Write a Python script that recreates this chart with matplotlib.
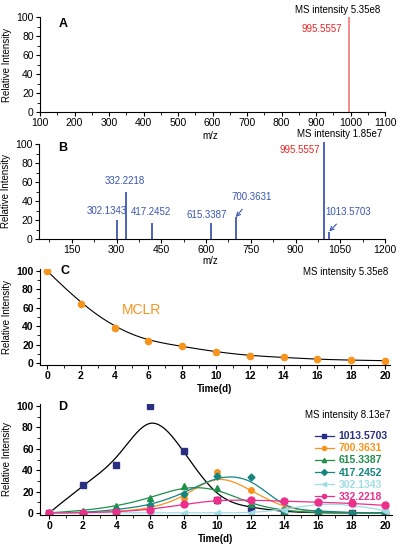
import numpy as np
import matplotlib.pyplot as plt
from matplotlib.ticker import MultipleLocator

plt.rcParams['font.family'] = ['Liberation Sans', 'DejaVu Sans']
plt.rcParams['font.size'] = 7

# ---------------- data ----------------
# panel A : full scan spectrum, day 0
mz_a = [995.5557]
int_a = [100]

# panel B : spectrum after degradation
mz_b = [302.1343, 332.2218, 417.2452, 615.3387, 700.3631, 995.5557, 1013.5703]
int_b = [20, 50, 17, 17, 23, 102, 7]

# panel C : MCLR decay
days = [0, 2, 4, 6, 8, 10, 12, 14, 16, 18, 20]
mclr = [100, 64, 38, 24, 18, 12, 8, 6, 4, 3, 2.5]

# panel D : products
prod_names = ["1013.5703", "700.3631", "615.3387", "417.2452", "302.1343", "332.2218"]
p1013 = [0, 26, 45, 100, 58, 12, 5, 1, 0, 0, 0]
p700 = [0, 0, 1, 4, 14, 38, 21, 4, 1, 0, 0]
p615 = [0, 2, 6, 14, 25, 23, 8, 2, 0, 0, 0]
p417 = [0, 0, 3, 7, 18, 35, 34, 3, 2, 0, 0]
p302 = [0, 0, 0, 0, 0, 0, 0, 3, 9, 8, 2]
p332 = [0, 0, 1, 3, 8, 12, 12, 11, 10, 9, 7]

prod_vals = [p1013, p700, p615, p417, p302, p332]
prod_cols = ["#2b2f83", "#f7941d", "#1f8f4a", "#16857f", "#9fdde5", "#ec2f8c"]
prod_mk = ["s", "o", "^", "D", "<", "o"]
prod_ms = [3.8, 4, 4, 3.5, 4, 5]
line_cols = ["black", "#f7941d", "#1f8f4a", "#16857f", "#9fdde5", "#ec2f8c"]


def bspline(xs, ys, k=3, num=400):
    # clamped uniform B-spline through control points (like Origin "B-Spline")
    xs = np.asarray(xs, float)
    ys = np.asarray(ys, float)
    n = len(xs)
    knots = np.concatenate([np.zeros(k), np.arange(n - k + 1), np.full(k, n - k)])
    u = np.linspace(0, n - k, num)
    u[-1] -= 1e-9
    N = np.zeros((num, len(knots) - 1))
    for i in range(len(knots) - 1):
        N[:, i] = (knots[i] <= u) & (u < knots[i + 1])
    for d in range(1, k + 1):
        Nn = np.zeros((num, len(knots) - 1 - d))
        for i in range(len(knots) - 1 - d):
            a = knots[i + d] - knots[i]
            b = knots[i + d + 1] - knots[i + 1]
            t1 = (u - knots[i]) / a * N[:, i] if a > 0 else 0
            t2 = (knots[i + d + 1] - u) / b * N[:, i + 1] if b > 0 else 0
            Nn[:, i] = t1 + t2
        N = Nn
    return N @ xs, N @ ys


W, H = 398, 550
fig = plt.figure(figsize=(W / 100, H / 100), dpi=100)


def add_ax(l, t, r, b):
    return fig.add_axes([l / W, 1 - b / H, (r - l) / W, (b - t) / H])


def ftext(x, y, s, **kw):
    # figure text placed in pixel coords (from top-left)
    fig.text(x / W, 1 - y / H, s, **kw)


def style(ax, bold=False):
    for s in ["top", "right"]:
        ax.spines[s].set_visible(False)
    for s in ["left", "bottom"]:
        ax.spines[s].set_linewidth(0.8)
    ax.tick_params(which="major", direction="out", length=3, width=0.8, pad=1.5, labelsize=7.5)
    ax.tick_params(which="minor", direction="out", length=2, width=0.6)
    if bold:
        for lab in ax.get_xticklabels() + ax.get_yticklabels():
            lab.set_fontweight("bold")


# ---------------- A ----------------
axA = add_ax(40, 17, 385, 112)
axA.vlines(mz_a, 0, int_a, color="#f07878", lw=1.2)
axA.set_xlim(100, 1100)
axA.set_ylim(0, 100)
axA.set_xticks(np.arange(100, 1101, 100))
axA.set_yticks(np.arange(0, 101, 20))
axA.xaxis.set_minor_locator(MultipleLocator(50))
axA.yaxis.set_minor_locator(MultipleLocator(10))
axA.set_ylabel("Relative Intensity", labelpad=3)
axA.text(166, 93, "A", fontsize=9, fontweight="bold", va="center", ha="center")
axA.text(918, 87, "995.5557", color="#ee2222", fontsize=7, ha="center", va="center")
style(axA)
ftext(210, 136, "m/z", ha="center", va="center", fontsize=7)
ftext(380, 10, "MS intensity 5.35e8", ha="right", va="center", fontsize=7)

# ---------------- B ----------------
axB = add_ax(39, 144, 385, 239)
axB.vlines(mz_b, 0, int_b, color="#2f4aa8", lw=1.2, clip_on=False)
axB.set_xlim(40, 1200)
axB.set_ylim(0, 100)
axB.set_xticks(np.arange(150, 1201, 150))
axB.set_yticks(np.arange(0, 101, 20))
axB.xaxis.set_minor_locator(MultipleLocator(75))
axB.yaxis.set_minor_locator(MultipleLocator(10))
axB.set_ylabel("Relative Intensity", labelpad=3)
axB.text(120, 96, "B", fontsize=9, fontweight="bold", va="center", ha="center")
axB.text(915, 94, "995.5557", color="#ee2222", fontsize=7, ha="center", va="center")
blue = "#3a56b0"
axB.text(328, 61, "332.2218", color=blue, ha="center", va="center")
axB.text(267, 29.5, "302.1343", color=blue, ha="center", va="center")
axB.text(415, 28, "417.2452", color=blue, ha="center", va="center")
axB.text(603, 25, "615.3387", color=blue, ha="center", va="center")
axB.annotate("700.3631", xy=(700, 23), xytext=(754, 44), color=blue, ha="center", va="center",
             arrowprops=dict(arrowstyle="->", color=blue, lw=0.8, shrinkA=4, shrinkB=0))
axB.annotate("1013.5703", xy=(1013, 8), xytext=(1076, 28), color=blue, ha="center", va="center",
             arrowprops=dict(arrowstyle="->", color=blue, lw=0.8, shrinkA=4, shrinkB=0))
style(axB)
ftext(210, 261, "m/z", ha="center", va="center", fontsize=7)
ftext(382, 134, "MS intensity 1.85e7", ha="right", va="center", fontsize=7)

# ---------------- C ----------------
axC = add_ax(40, 269, 390, 365)
cx, cy = bspline(days, mclr)
axC.plot(cx, cy, color="black", lw=0.8)
axC.plot(days, mclr, "o", color="#f7941d", ms=4.5, mec="#f7941d")
axC.set_xlim(-0.42, 20.3)
axC.set_ylim(-2.2, 102)
axC.set_xticks(np.arange(0, 21, 2))
axC.set_yticks(np.arange(0, 101, 20))
axC.xaxis.set_minor_locator(MultipleLocator(1))
axC.yaxis.set_minor_locator(MultipleLocator(10))
axC.set_ylabel("Relative Intensity", labelpad=3)
axC.set_xlabel("Time(d)", fontweight="bold", labelpad=2)
axC.text(1.05, 100, "C", fontsize=9, fontweight="bold", va="center", ha="center")
axC.text(5.6, 57.5, "MCLR", color="#f7941d", fontsize=10, ha="center", va="center")
style(axC, bold=True)
ftext(388, 272, "MS intensity 5.35e8", ha="right", va="center", fontsize=7)

# ---------------- D ----------------
axD = add_ax(40, 404, 392, 515)
handles = []
for name, vals, col, mk, ms, lc in zip(prod_names, prod_vals, prod_cols, prod_mk, prod_ms, line_cols):
    sx, sy = bspline(days, vals)
    axD.plot(sx, sy, color=lc, lw=0.9)
    axD.plot(days, vals, mk, color=col, ms=ms, mec=col)
    h, = axD.plot([], [], color=lc if lc != "black" else "#2b2f83", marker=mk, ms=3, mec=col, mfc=col, lw=0.9)
    handles.append(h)
axD.set_xlim(-0.55, 20.4)
axD.set_ylim(-2, 102)
axD.set_xticks(np.arange(0, 21, 2))
axD.set_yticks(np.arange(0, 101, 20))
axD.xaxis.set_minor_locator(MultipleLocator(1))
axD.yaxis.set_minor_locator(MultipleLocator(10))
axD.set_ylabel("Relative Intensity", labelpad=3)
axD.set_xlabel("Time(d)", fontweight="bold", labelpad=2)
axD.text(0.8, 99, "D", fontsize=9, fontweight="bold", va="center", ha="center")
leg = axD.legend(handles, prod_names, loc="upper left", bbox_to_anchor=(0.76, 0.82), frameon=False,
                 fontsize=7.5, handlelength=1.8, handletextpad=0.5, labelspacing=0.2, borderpad=0.2)
for txt, col in zip(leg.get_texts(), prod_cols):
    txt.set_color(col)
    txt.set_fontweight("bold")
style(axD, bold=True)
ftext(390, 415, "MS intensity 8.13e7", ha="right", va="center", fontsize=7)

fig.savefig("out.png", dpi=100)
